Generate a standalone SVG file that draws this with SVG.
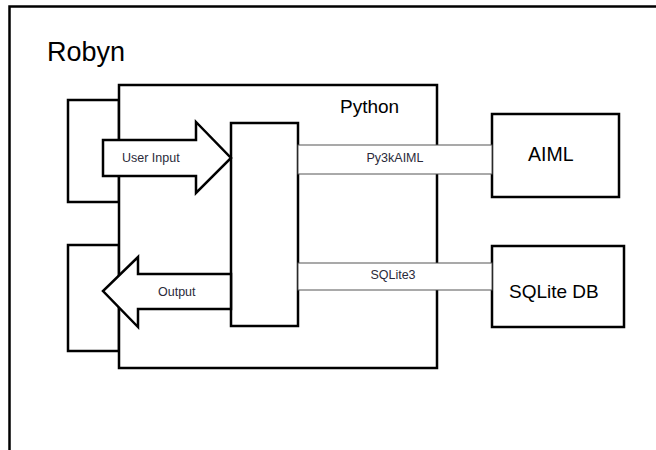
<svg xmlns="http://www.w3.org/2000/svg" width="656" height="450" viewBox="0 0 656 450">
<style>
.box{fill:#fff;stroke:#000;stroke-width:2.5}
.band{fill:#fff;stroke:#555;stroke-width:1}
.arrow{fill:#fff;stroke:#000;stroke-width:2.5;stroke-linejoin:miter}
.big{font-family:"Liberation Sans",Arial,sans-serif;fill:#000}
.small{font-family:"Liberation Sans",Arial,sans-serif;font-size:12.5px;fill:#2a2a3a}
</style>
<rect width="656" height="450" fill="#fff"/>
<g id="robyn">
<path d="M9.5,450 V6.5 H656" fill="none" stroke="#000" stroke-width="2.5"/>
<text class="big" x="47" y="61" font-size="27">Robyn</text>
</g>
<g id="input-port"><rect class="box" x="68" y="100" width="51" height="102"/></g>
<g id="output-port"><rect class="box" x="68" y="245" width="51" height="106"/></g>
<g id="python">
<rect class="box" x="119" y="85" width="318" height="283"/>
<text class="big" x="340" y="113" font-size="19">Python</text>
</g>
<g id="core"><rect class="box" x="231" y="123" width="67" height="203"/></g>
<g id="aiml">
<rect class="box" x="492" y="114" width="127" height="83"/>
<text class="big" x="528" y="161" font-size="19.5">AIML</text>
</g>
<g id="sqlitedb">
<rect class="box" x="492" y="246" width="132" height="81"/>
<text class="big" x="509" y="298" font-size="19">SQLite DB</text>
</g>
<g id="connectors">
<path class="arrow" d="M103,140 H196 V122 L231,158 L196,193 V176 H103 Z"/>
<text class="small" x="122" y="162">User Input</text>
<path class="arrow" d="M231,274 H138 V257 L103,291 L138,327 V309 H231 Z"/>
<text class="small" x="158" y="296">Output</text>
<rect class="band" x="298" y="145" width="194" height="29"/>
<text class="small" x="395" y="162" text-anchor="middle">Py3kAIML</text>
<rect class="band" x="298" y="263" width="194" height="27"/>
<text class="small" x="393" y="279" text-anchor="middle">SQLite3</text>
</g>
</svg>
